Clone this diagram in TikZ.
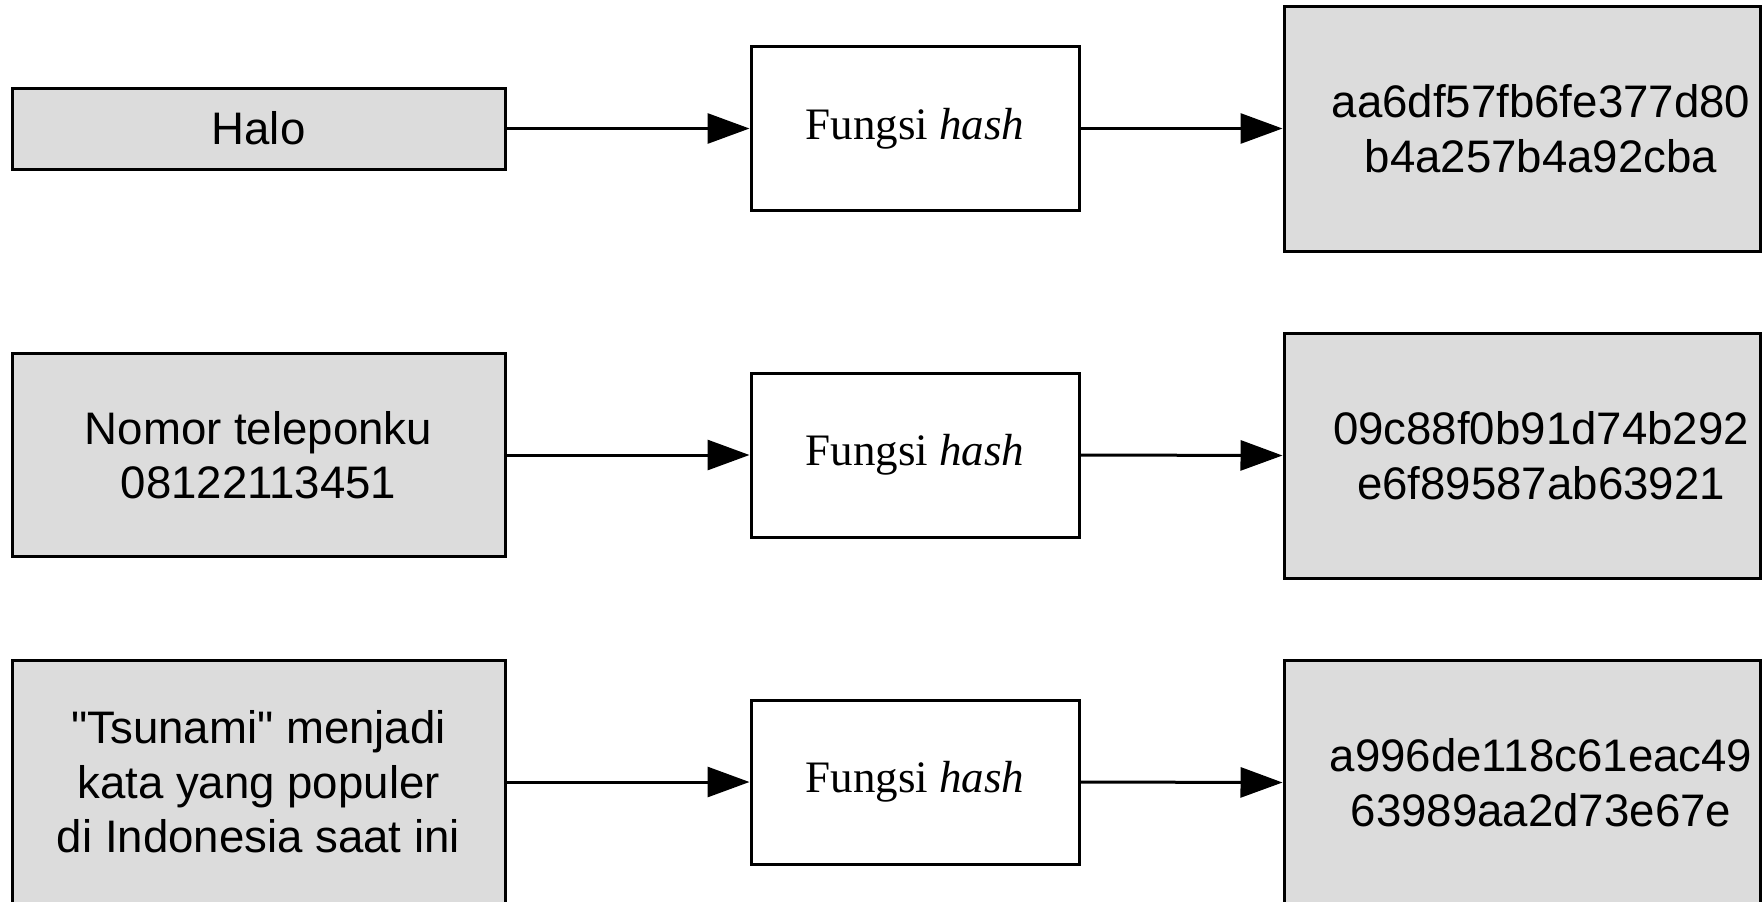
\documentclass[tikz,border=0pt]{standalone}
\usepackage{fontspec}
\setmainfont{Liberation Sans}
\newfontfamily\seriffont{Liberation Serif}
\usetikzlibrary{arrows.meta}
\definecolor{boxgray}{RGB}{220,220,220}
\newcommand\straightquote{\XeTeXglyph\XeTeXcharglyph"22\relax}
\begin{document}
\begin{tikzpicture}[x=0.5pt,y=-0.5pt,
  box/.style={draw=black, line width=1.5pt, inner sep=0pt, align=center,
    font=\fontsize{22.8}{27.3}\selectfont},
  inbox/.style={box, fill=boxgray, minimum width=246.5pt},
  fnbox/.style={box, fill=white, minimum width=164pt, minimum height=82pt,
    font=\seriffont\fontsize{22.5}{27}\selectfont},
  outbox/.style={box, fill=boxgray, minimum width=238pt, minimum height=122.5pt},
  outtext/.style={inner sep=0pt, align=center, xshift=9.5pt,
    font=\fontsize{22.8}{27.3}\selectfont},
  conn/.style={line width=1.5pt, -{Triangle[length=21pt,width=15pt]}}]
\useasboundingbox (0,0) rectangle (1762,901);
% row 1
\node[inbox, minimum height=40.5pt] (in1) at (258.5,128.5) {Halo};
\node[fnbox] (fn1) at (915,128.5) {Fungsi \textit{hash}};
\node[outbox] (out1) at (1522,128.5) {};
\node[outtext] (out1t) at (out1.center) {aa6df57fb6fe377d80\\b4a257b4a92cba};
% row 2
\node[inbox, minimum height=101.5pt] (in2) at (258.5,455) {Nomor teleponku\\08122113451};
\node[fnbox] (fn2) at (915,455) {Fungsi \textit{hash}};
\node[outbox] (out2) at (1522,455.5) {};
\node[outtext] (out2t) at (out2.center) {09c88f0b91d74b292\\e6f89587ab63921};
% row 3
\node[inbox, minimum height=122pt] (in3) at (258.5,782) {\straightquote Tsunami\straightquote{} menjadi\\kata yang populer\\di Indonesia saat ini};
\node[fnbox] (fn3) at (915,782) {Fungsi \textit{hash}};
\node[outbox] (out3) at (1522,782.5) {};
\node[outtext] (out3t) at (out3.center) {a996de118c61eac49\\63989aa2d73e67e};
% connectors
\draw[conn] (in1.east) -- (fn1.west);
\draw[conn] (fn1.east) -- (out1.west);
\draw[conn] (in2.east) -- (fn2.west);
\draw[conn] (fn2.east) -- (out2.west);
\draw[conn] (in3.east) -- (fn3.west);
\draw[conn] (fn3.east) -- (out3.west);
\end{tikzpicture}
\end{document}
